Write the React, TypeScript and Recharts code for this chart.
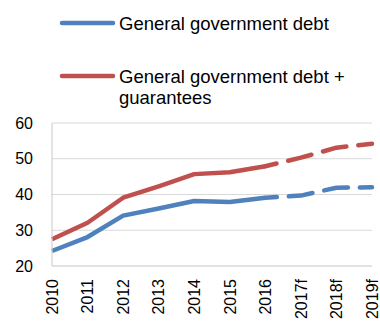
import React from "react";
import { LineChart, Line, XAxis, YAxis, CartesianGrid, Legend } from "recharts";

const years = ["2010", "2011", "2012", "2013", "2014", "2015", "2016", "2017f", "2018f", "2019f"];
const debt = [24.2, 28.1, 34.1, 36.1, 38.2, 37.9, 39.1, 39.7, 41.9, 42.0];
const debtGuar = [27.5, 32.1, 39.1, 42.3, 45.7, 46.2, 47.9, 50.3, 53.1, 54.2];
const yTicks = [20, 30, 40, 50, 60];
const forecastStart = 6;

const seriesNames = ["General government debt", "General government debt +\nguarantees"];
const BLUE = "#4f81bd";
const RED = "#c0504d";

const data = years.map((y, i) => ({
  year: y,
  debtSolid: i <= forecastStart ? debt[i] : null,
  debtDash: i >= forecastStart ? debt[i] : null,
  guarSolid: i <= forecastStart ? debtGuar[i] : null,
  guarDash: i >= forecastStart ? debtGuar[i] : null,
}));

const FONT = "'Liberation Sans', Arial, sans-serif";

const LegendContent = () => {
  const items = [
    { color: BLUE, lines: seriesNames[0].split("\n"), y: 23 },
    { color: RED, lines: seriesNames[1].split("\n"), y: 76 },
  ];
  return (
    <svg width={380} height={123} style={{ display: "block" }}>
      {items.map((it, k) => (
        <g key={k}>
          <line x1={62} x2={113} y1={it.y} y2={it.y} stroke={it.color} strokeWidth={4.5} strokeLinecap="round" />
          {it.lines.map((t, j) => (
            <text
              key={j}
              x={119}
              y={it.y + j * 21.5}
              dy="0.36em"
              fontSize={18.5}
              fontFamily={FONT}
              fill="#000"
            >
              {t}
            </text>
          ))}
        </g>
      ))}
    </svg>
  );
};

const XTick = (props: any) => {
  const { x, y, payload } = props;
  return (
    <text
      x={x}
      y={y}
      transform={`rotate(-90 ${x} ${y})`}
      textAnchor="end"
      dy="0.36em"
      fontSize={16}
      fontFamily={FONT}
      fill="#000"
    >
      {payload.value}
    </text>
  );
};

export default function App() {
  return (
    <div style={{ position: "absolute", left: 0, top: 0 }}>
      <LineChart width={380} height={322} data={data} margin={{ top: 0, right: 8, left: 0, bottom: 0 }}>
        <Legend
          verticalAlign="top"
          align="left"
          content={<LegendContent />}
          wrapperStyle={{ left: 0, top: 0, width: 380, height: 123 }}
        />
        <CartesianGrid vertical={false} stroke="#d9d9d9" strokeWidth={1} />
        <XAxis
          dataKey="year"
          interval={0}
          tickLine={false}
          tickSize={0}
          tickMargin={13}
          height={56}
          axisLine={{ stroke: "#d9d9d9" }}
          tick={<XTick />}
        />
        <YAxis
          domain={[20, 60]}
          ticks={yTicks}
          interval={0}
          width={52}
          tickLine={false}
          tickSize={0}
          tickMargin={19}
          axisLine={{ stroke: "#c8c8c8" }}
          tick={{ fontSize: 16, fontFamily: FONT, fill: "#000" }}
        />
        <Line dataKey="debtSolid" stroke={BLUE} strokeWidth={4.5} dot={false} isAnimationActive={false} connectNulls={false} strokeLinejoin="round" />
        <Line dataKey="debtDash" stroke={BLUE} strokeWidth={4.5} dot={false} isAnimationActive={false} strokeDasharray="24 12" strokeDashoffset={12.5} strokeLinecap="round" strokeLinejoin="round" />
        <Line dataKey="guarSolid" stroke={RED} strokeWidth={4.5} dot={false} isAnimationActive={false} strokeLinejoin="round" />
        <Line dataKey="guarDash" stroke={RED} strokeWidth={4.5} dot={false} isAnimationActive={false} strokeDasharray="24 12" strokeDashoffset={12.5} strokeLinecap="round" strokeLinejoin="round" />
      </LineChart>
    </div>
  );
}
